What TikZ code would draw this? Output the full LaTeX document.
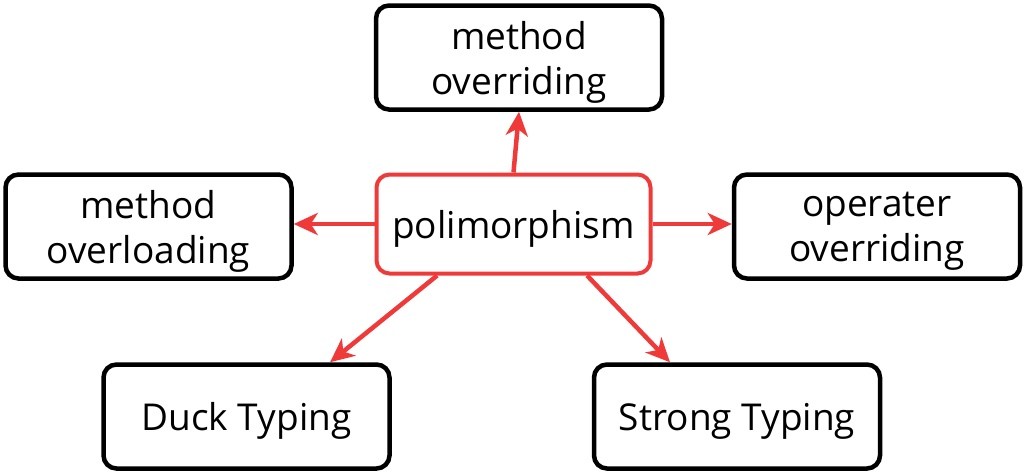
\documentclass[tikz,border=0pt]{standalone}
\usepackage{fontspec}
\setmainfont{Open Sans}
\usetikzlibrary{positioning,arrows.meta}
\definecolor{mapred}{RGB}{240,58,58}

\begin{document}
\begin{tikzpicture}[
    x=1pt, y=-1pt, >=Stealth,
    font=\fontsize{37}{45}\selectfont,
    idea/.style={draw, line width=4.5pt, rounded corners=13pt, fill=white, align=center,
      minimum width=286pt, minimum height=104pt, inner sep=2pt, text depth=0pt},
    core/.style={idea, draw=mapred, line width=4pt, minimum width=274pt, minimum height=99pt},
    link/.style={draw=mapred, line width=4.5pt, arrows={-Stealth[length=24pt, width=22pt, inset=7pt]}}]
  \useasboundingbox (0,0) rectangle (1025,475);
  \node[core] (poly) at (513.5,224) {polimorphism};
  \node[idea] (ovr) at (519,57.5) {method\\overriding};
  \node[idea] (ovl) at (148.5,226.5) {method\\overloading};
  \node[idea] (opr) at (877,226.5) {operater\\overriding};
  \node[idea] (duck) at (246.5,416.5) {Duck Typing};
  \node[idea] (strong) at (737,416.5) {Strong Typing};
  \draw[link] (poly.north) -- (ovr.south);
  \draw[link] (poly.west) -- (poly.west -| ovl.east);
  \draw[link] (poly.east) -- (poly.east -| opr.west);
  \draw[link] (poly.214) -- (duck.33.6);
  \draw[link] (poly.-35.5) -- (strong.141);
\end{tikzpicture}
\end{document}
